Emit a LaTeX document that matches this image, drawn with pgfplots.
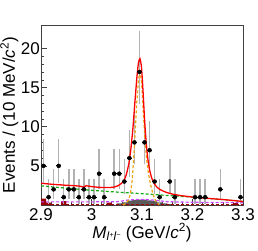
\documentclass[border=0pt]{standalone}
\usepackage{pgfplots}
\pgfplotsset{compat=1.18}
\usepackage{pgfplotstable}
\usepackage{fontspec}
\setmainfont{Liberation Sans}
\definecolor{maroon}{RGB}{153,0,0}
\definecolor{sigorange}{RGB}{235,165,20}
\definecolor{bkggreen}{RGB}{20,170,20}
\definecolor{violet}{RGB}{200,70,255}
\definecolor{peakgray}{RGB}{90,90,90}

\pgfplotstableread{
x y ep em
2.905 5 3.38 2.16
2.915 1 2.30 0.83
2.925 2 2.64 1.29
2.935 5 3.38 2.16
2.945 1 2.30 0.83
2.955 2 2.64 1.29
2.965 2 2.64 1.29
2.975 1 2.30 0.83
2.985 2 2.64 1.29
2.995 1 2.30 0.83
3.005 1 2.30 0.83
3.015 4 3.16 1.91
3.025 1 2.30 0.83
3.045 4 3.16 1.91
3.055 4 3.16 1.91
3.065 3 2.92 1.63
3.075 6 3.58 2.38
3.085 8 3.95 2.77
3.095 17 5.20 4.08
3.105 8 3.95 2.77
3.115 7 3.77 2.58
3.125 3 2.92 1.63
3.135 1 2.30 0.83
3.155 3 2.92 1.63
3.165 1 2.30 0.83
3.205 1 2.30 0.83
3.215 1 2.30 0.83
3.225 1 2.30 0.83
3.255 2 2.64 1.29
3.295 1 2.30 0.83
}\data

\pgfplotstableread{
x y
2.900 2.78
2.910 2.72
2.920 2.66
2.930 2.61
2.940 2.57
2.950 2.52
2.960 2.49
2.970 2.45
2.978 2.40
2.984 2.28
2.989 2.46
2.995 2.40
3.005 2.32
3.015 2.26
3.025 2.23
3.035 2.23
3.045 2.30
3.052 2.45
3.058 2.70
3.064 3.10
3.069 3.90
3.074 5.30
3.078 7.20
3.082 9.80
3.086 13.2
3.090 16.4
3.093 18.2
3.096 18.7
3.099 17.6
3.102 14.6
3.105 11.0
3.108 8.2
3.111 6.2
3.115 4.5
3.119 3.5
3.124 2.75
3.130 2.25
3.138 1.90
3.148 1.62
3.160 1.40
3.175 1.22
3.190 1.10
3.200 1.02
3.220 0.90
3.240 0.80
3.260 0.70
3.280 0.58
3.300 0.45
}\total

\pgfplotstableread{
x y
2.900 2.45
2.950 2.15
3.000 1.88
3.050 1.65
3.100 1.45
3.150 1.22
3.200 1.00
3.250 0.75
3.300 0.45
}\bkg

\pgfplotstableread{
x y
3.062 0.00
3.068 0.20
3.073 0.60
3.077 1.40
3.081 3.40
3.085 7.50
3.089 12.5
3.093 16.0
3.096 17.0
3.099 15.8
3.102 12.6
3.105 9.2
3.109 6.0
3.113 3.9
3.117 2.6
3.121 1.6
3.125 0.80
3.129 0.30
3.134 0.05
}\sig

\pgfplotstableread{
x y
2.900 0.40
2.950 0.40
3.000 0.40
3.050 0.42
3.060 0.50
3.070 0.62
3.090 0.72
3.110 0.70
3.130 0.58
3.150 0.42
3.200 0.35
3.250 0.32
3.300 0.30
}\other

\begin{document}
\begin{tikzpicture}
\begin{axis}[
  scale only axis, width=202pt, height=180pt,
  xmin=2.9, xmax=3.3, ymin=0, ymax=23,
  axis line style={black!75, line width=0.6pt},
  xtick={2.9,3,3.1,3.2,3.3}, xticklabels={2.9,3,3.1,3.2,3.3},
  ytick={5,10,15,20},
  minor x tick num=4, minor y tick num=4,
  tick align=inside,
  major tick length=6pt, minor tick length=3pt,
  tick style={black!75, line width=0.5pt},
  xtick pos=bottom, ytick pos=left,
  /pgf/number format/assume math mode=true,
  every tick label/.append style={font=\fontsize{17}{20}\selectfont},
  yticklabel style={inner sep=1pt},
  label style={font=\fontsize{17}{20}\selectfont},
  ylabel={Events / (10 MeV/\textit{c}\textsuperscript{2})},
  xlabel={\textit{M}\textsubscript{\textit{l}\raisebox{0.45ex}{\scriptsize +}\textit{l}\raisebox{0.45ex}{\scriptsize −}} (GeV/\textit{c}\textsuperscript{2})},
  ylabel style={yshift=-2pt},
  xlabel style={yshift=4pt},
  clip=true,
]
% maroon histogram
\addplot[fill=maroon, draw=none, const plot] coordinates {
 (2.90,0.80)(2.91,0.30)(2.92,0)(2.94,0.50)(2.95,0)(3.03,0.30)(3.04,0)(3.28,0.25)(3.29,0)(3.30,0)} \closedcycle;
% grey peaking histogram
\addplot[fill=peakgray, draw=none, const plot] coordinates {
 (3.05,0.20)(3.06,0.35)(3.07,0.55)(3.08,0.65)(3.09,0.70)(3.10,0.70)(3.11,0.60)(3.12,0.50)(3.13,0.35)(3.14,0.20)(3.15,0.10)(3.16,0)} \closedcycle;
% grey y error bars
\addplot[only marks, mark=none, error bars/.cd, y dir=both, y explicit,
  error mark=none, error bar style={gray!60, line width=1.5pt}]
  table[x=x, y=y, y error plus=ep, y error minus=em] {\data};
% curves
\addplot[maroon, dash pattern=on 3pt off 2pt, line width=0.8pt] coordinates {(2.9,0.08)(3.3,0.08)};
\addplot[violet, dash pattern=on 3pt off 2pt, line width=1.2pt] table {\other};
\addplot[bkggreen, dash pattern=on 3pt off 2pt, line width=1.2pt] table {\bkg};
\addplot[sigorange, dash pattern=on 3pt off 2pt, line width=1.2pt] table {\sig};
\addplot[red, line width=1.3pt, smooth, tension=0.3] table {\total};
% data markers
\addplot[only marks, mark=*, mark size=0.9pt, black,
  error bars/.cd, x dir=both, x fixed=0.005, error mark=none,
  error bar style={black, line width=1pt}]
  table[x=x, y=y] {\data};
\end{axis}
\pgfresetboundingbox
\path[use as bounding box] ([xshift=-41pt,yshift=-45pt]current axis.south west) rectangle ([xshift=15pt,yshift=25pt]current axis.north east);
\end{tikzpicture}
\end{document}
